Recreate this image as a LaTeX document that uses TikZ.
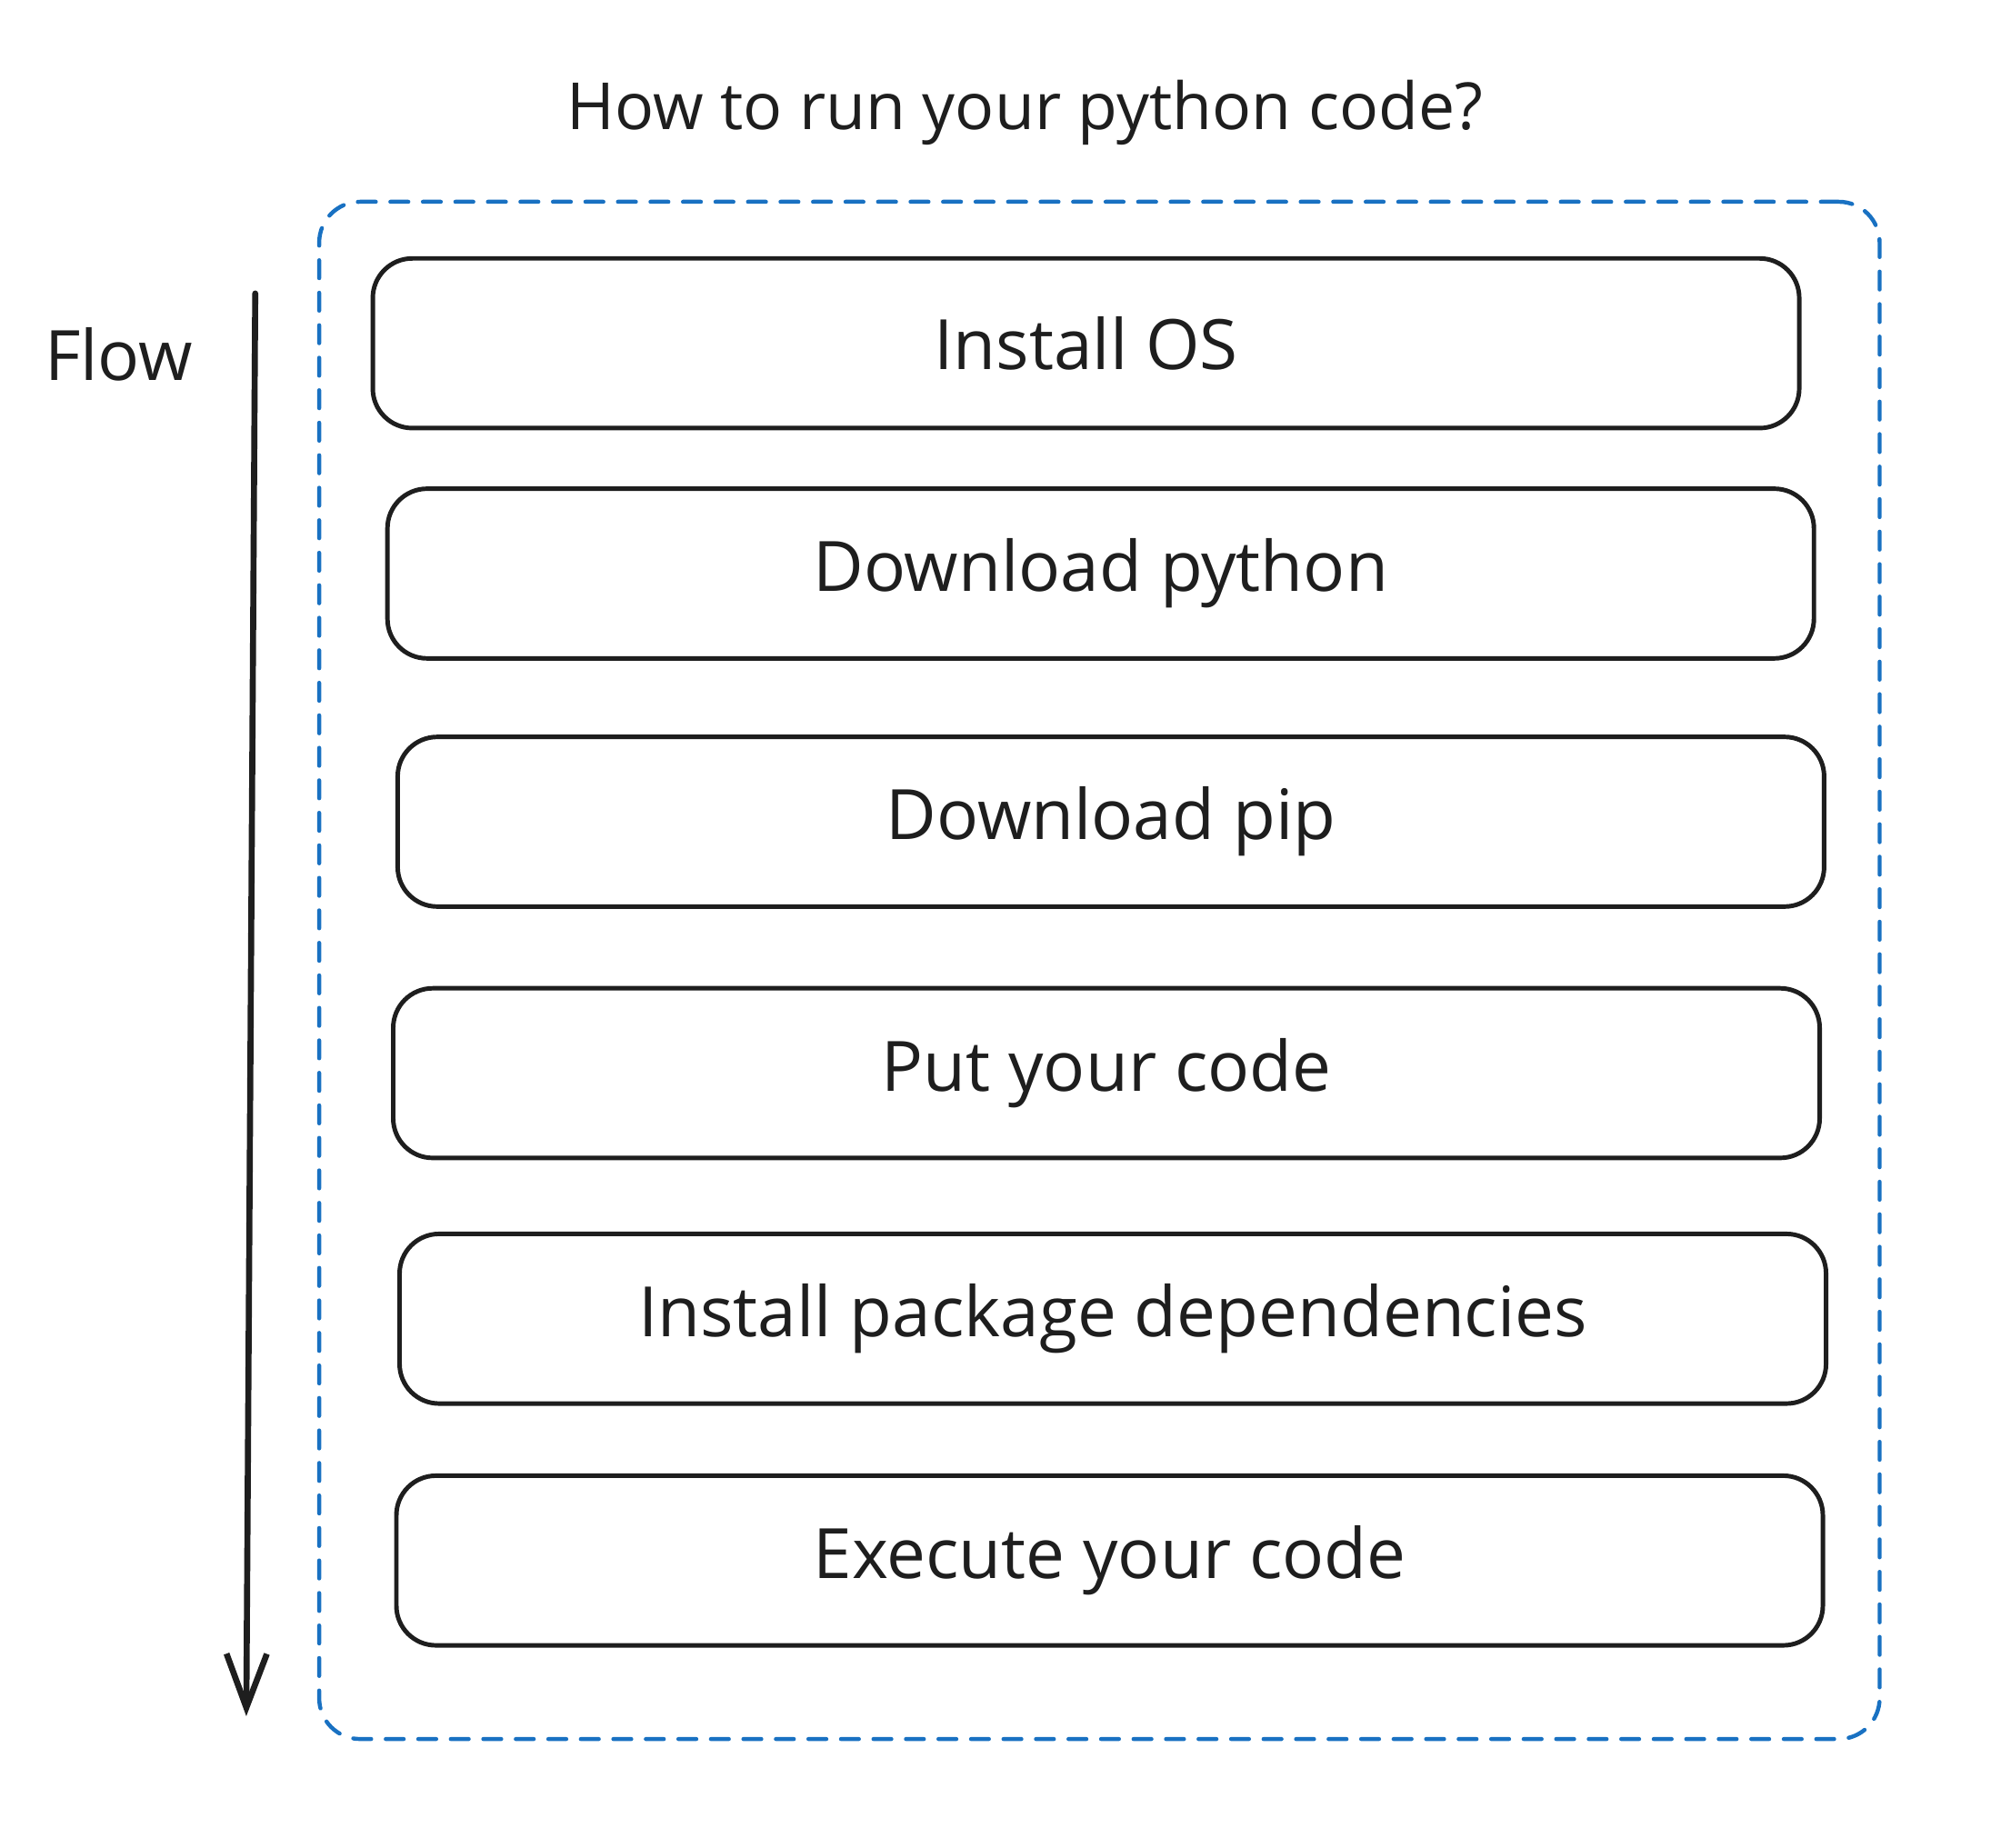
\documentclass[tikz,border=0pt]{standalone}
\usepackage{fontspec}
\setmainfont{Open Sans}
\usetikzlibrary{arrows.meta}
\definecolor{ink}{HTML}{1E1E1E}
\definecolor{exblue}{HTML}{1971C2}
\tikzset{
  stepbox/.style={draw=ink, line width=2pt, rounded corners=0.62cm, minimum width=22.36cm, minimum height=2.66cm, inner sep=0pt, font=\fontsize{31}{36}\selectfont, text=ink},
  framebox/.style={draw=exblue, line width=1.8pt, dash pattern=on 8pt off 6.5pt, line cap=round, rounded corners=0.64cm, minimum width=24.46cm, minimum height=24.1cm, inner sep=0pt},
  flowline/.style={draw=ink, line width=2.7pt, line cap=round, -{Straight Barb[length=24pt, width=18pt, line width=2.7pt]}},
}
\begin{document}
\begin{tikzpicture}[x=0.02cm,y=-0.02cm]
\useasboundingbox (0,0) rectangle (1568,1448);
\node[text=ink, font=\fontsize{29}{34}\selectfont] (title) at (803,88) {How to run your python code?};
\node[framebox] (frame) at (861.5,760.5) {};
\node[stepbox] (s1) at (851,269) {Install OS};
\node[stepbox] (s2) at (862.5,449.5) {Download python};
\node[stepbox] (s3) at (870.5,644) {Download pip};
\node[stepbox] (s4) at (867,841) {Put your code};
\node[stepbox] (s5) at (872,1033.5) {Install package dependencies};
\node[stepbox] (s6) at (869.5,1223) {Execute your code};
\node[text=ink, font=\fontsize{31}{36}\selectfont] (flow) at (93,278) {Flow};
\coordinate (ftop) at (200,230);
\coordinate (fbot) at (193,1345);
\draw[flowline] (ftop) -- (fbot);
\end{tikzpicture}
\end{document}
